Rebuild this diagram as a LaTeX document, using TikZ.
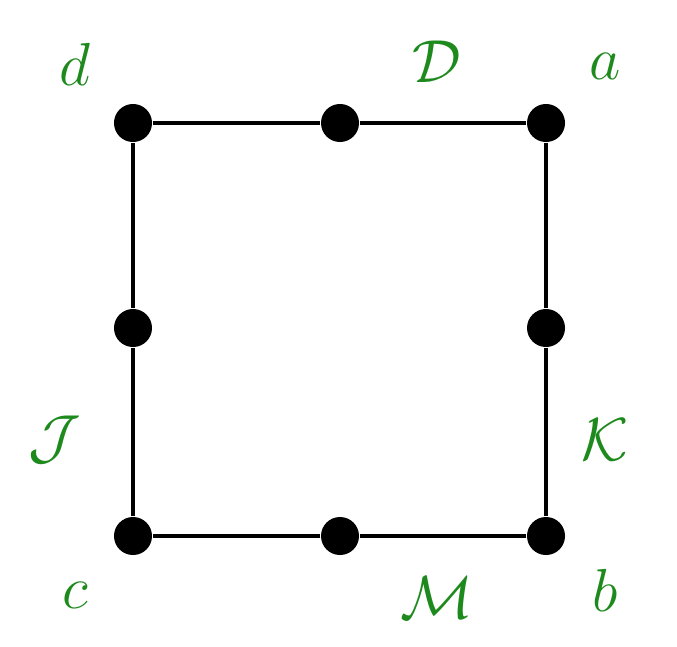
\documentclass[tikz,border=0pt]{standalone}
\definecolor{sqGreen}{HTML}{1E8A1E}
\tikzset{
  sq edge/.style={draw=black, line width=0.9pt},
  sq dot/.style={circle, fill=black, minimum size=3.8mm, inner sep=0pt},
  sq label/.style={text=sqGreen, font=\fontsize{18.5}{22}\selectfont, inner sep=0pt},
}
\begin{document}
\begin{tikzpicture}[x=0.01cm,y=-0.01cm]
  \useasboundingbox (0,0) rectangle (677,646);
  % corners and midpoints
  \node[sq dot] (d) at (133,123) {};
  \node[sq dot] (a) at (546,123) {};
  \node[sq dot] (b) at (546,536) {};
  \node[sq dot] (c) at (133,536) {};
  \node[sq dot] (mD) at (340,123) {};
  \node[sq dot] (mK) at (546,328) {};
  \node[sq dot] (mM) at (340,536) {};
  \node[sq dot] (mJ) at (133,328) {};
  \draw[sq edge] (d) -- (mD) -- (a) -- (mK) -- (b) -- (mM) -- (c) -- (mJ) -- (d);
  % labels
  \node[sq label] (ld) at (75,64) {$d$};
  \node[sq label] (lD) at (437,62) {$\mathcal{D}$};
  \node[sq label] (la) at (605,66) {$a$};
  \node[sq label] (lJ) at (55,440) {$\mathcal{J}$};
  \node[sq label] (lK) at (605,440) {$\mathcal{K}$};
  \node[sq label] (lc) at (75,595) {$c$};
  \node[sq label] (lM) at (437,598) {$\mathcal{M}$};
  \node[sq label] (lb) at (605,590) {$b$};
\end{tikzpicture}
\end{document}
